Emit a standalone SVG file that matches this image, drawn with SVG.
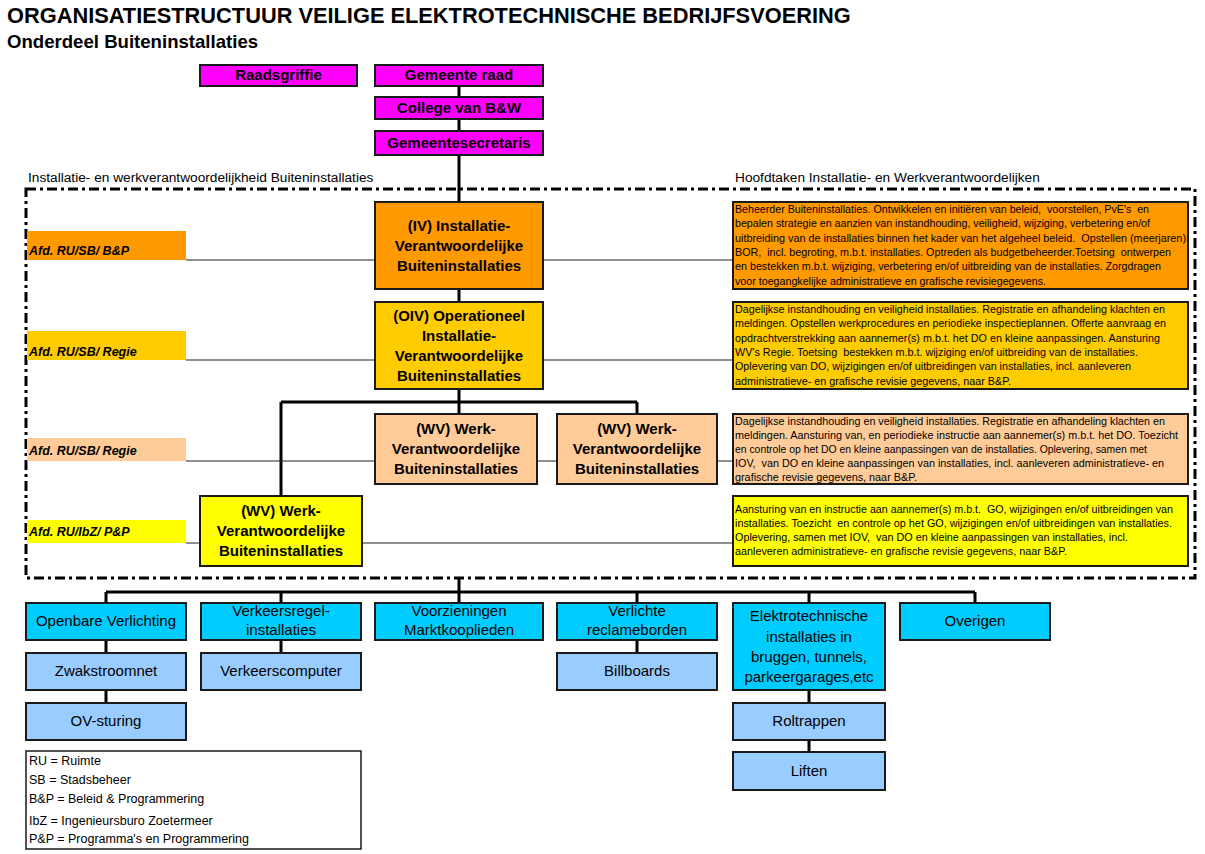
<svg xmlns="http://www.w3.org/2000/svg" width="1205" height="854" viewBox="0 0 1205 854">
<style>
text{font-family:"Liberation Sans",Arial,sans-serif;fill:#000}
.box{stroke:#1a1a1a;stroke-width:2}
.conn{stroke:#000;stroke-width:3;fill:none}
.thin{stroke:#222;stroke-width:1.2;fill:none}
.dd{stroke:#000;stroke-width:3;fill:none;stroke-dasharray:10 4 3 4}
.nb{font-weight:bold;font-size:15px;text-anchor:middle}
.nr{font-size:15px;text-anchor:middle}
.task{font-size:10.5px}
.lab{font-size:12.5px;font-style:italic;font-weight:bold}
.hdr{font-size:13.7px}
.leg{font-size:12.5px}
.mag{fill:#FF00FF}
.or{fill:#FF9900}
.gd{fill:#FFCC00}
.pe{fill:#FFCC99}
.ye{fill:#FFFF00}
.cy{fill:#00CCFF}
.lb{fill:#99CCFF}
</style>

<text x="7" y="23" style="font-size:21.8px;font-weight:bold">ORGANISATIESTRUCTUUR VEILIGE ELEKTROTECHNISCHE BEDRIJFSVOERING</text>
<text x="7" y="48" style="font-size:18.6px;font-weight:bold">Onderdeel Buiteninstallaties</text>
<text class="hdr" x="28" y="182">Installatie- en werkverantwoordelijkheid Buiteninstallaties</text>
<text class="hdr" x="735" y="182">Hoofdtaken Installatie- en Werkverantwoordelijken</text>

<rect class="dd" x="26" y="189" width="1169" height="389"/>

<g id="connectors">
  <path class="conn" d="M459 86V97M459 119V131M459 155V202M459 289V302M459 389V402M281 402H637M459 402V414M637 402V414M281 402V496"/>
  <path class="thin" d="M186 260H375M543 260H733M186 360H375M543 360H733M186 461H375M537 461H557M717 461H733M186 543H200M362 543H733"/>
  <path class="conn" d="M459 578V592M106 592H975M106 592V603M281 592V603M459 592V603M637 592V603M809 592V603M975 592V603M106 640V653M106 690V703M281 640V653M637 640V653M809 690V703M809 740V752"/>
</g>

<g id="raadsgriffie"><rect class="box mag" x="200" y="65" width="157" height="21"/><text class="nb" x="278.5" y="80">Raadsgriffie</text></g>
<g id="gemeenteraad"><rect class="box mag" x="375" y="65" width="168" height="21"/><text class="nb" x="459" y="80">Gemeente raad</text></g>
<g id="college"><rect class="box mag" x="375" y="97" width="168" height="22"/><text class="nb" x="459" y="113">College van B&amp;W</text></g>
<g id="secretaris"><rect class="box mag" x="375" y="131" width="168" height="24"/><text class="nb" x="459" y="148">Gemeentesecretaris</text></g>

<g id="iv"><rect class="box or" x="375" y="202" width="168" height="87"/>
<text class="nb" x="459" y="231">(IV) Installatie-</text><text class="nb" x="459" y="251">Verantwoordelijke</text><text class="nb" x="459" y="271">Buiteninstallaties</text></g>
<g id="oiv"><rect class="box gd" x="375" y="302" width="168" height="87"/>
<text class="nb" x="459" y="321">(OIV) Operationeel</text><text class="nb" x="459" y="341">Installatie-</text><text class="nb" x="459" y="361">Verantwoordelijke</text><text class="nb" x="459" y="381">Buiteninstallaties</text></g>
<g id="wv1"><rect class="box pe" x="375" y="414" width="162" height="70"/>
<text class="nb" x="456" y="434">(WV) Werk-</text><text class="nb" x="456" y="454">Verantwoordelijke</text><text class="nb" x="456" y="474">Buiteninstallaties</text></g>
<g id="wv2"><rect class="box pe" x="557" y="414" width="160" height="70"/>
<text class="nb" x="637" y="434">(WV) Werk-</text><text class="nb" x="637" y="454">Verantwoordelijke</text><text class="nb" x="637" y="474">Buiteninstallaties</text></g>
<g id="wv3"><rect class="box ye" x="200" y="496" width="162" height="70"/>
<text class="nb" x="281" y="516">(WV) Werk-</text><text class="nb" x="281" y="536">Verantwoordelijke</text><text class="nb" x="281" y="556">Buiteninstallaties</text></g>

<g id="lab-bp"><rect class="or" x="27" y="231" width="159" height="29"/><text class="lab" x="29" y="255">Afd. RU/SB/ B&amp;P</text></g>
<g id="lab-regie1"><rect class="gd" x="27" y="331" width="159" height="29"/><text class="lab" x="29" y="356">Afd. RU/SB/ Regie</text></g>
<g id="lab-regie2"><rect class="pe" x="27" y="438" width="159" height="23"/><text class="lab" x="29" y="455">Afd. RU/SB/ Regie</text></g>
<g id="lab-pp"><rect class="ye" x="27" y="520" width="159" height="23"/><text class="lab" x="29" y="536">Afd. RU/IbZ/ P&amp;P</text></g>

<g id="task-iv"><rect class="box or" x="733" y="202" width="455" height="87"/>
<text class="task" x="735" y="213" xml:space="preserve" textLength="414" lengthAdjust="spacingAndGlyphs">Beheerder Buiteninstallaties. Ontwikkelen en initiëren van beleid,  voorstellen, PvE's  en</text>
<text class="task" x="735" y="227.3" xml:space="preserve" textLength="415" lengthAdjust="spacingAndGlyphs">bepalen strategie en aanzien van instandhouding, veiligheid, wijziging, verbetering en/of</text>
<text class="task" x="735" y="241.6" xml:space="preserve" textLength="451" lengthAdjust="spacingAndGlyphs">uitbreiding van de installaties binnen het kader van het algeheel beleid.  Opstellen (meerjaren)</text>
<text class="task" x="735" y="256" xml:space="preserve" textLength="436" lengthAdjust="spacingAndGlyphs">BOR,  incl. begroting, m.b.t. installaties. Optreden als budgetbeheerder.Toetsing  ontwerpen</text>
<text class="task" x="735" y="270.3" xml:space="preserve" textLength="426" lengthAdjust="spacingAndGlyphs">en bestekken m.b.t. wijziging, verbetering en/of uitbreiding van de installaties. Zorgdragen</text>
<text class="task" x="735" y="284.6" xml:space="preserve" textLength="311" lengthAdjust="spacingAndGlyphs">voor toegangkelijke administratieve en grafische revisiegegevens.</text></g>

<g id="task-oiv"><rect class="box gd" x="733" y="302" width="455" height="87"/>
<text class="task" x="735" y="313" xml:space="preserve" textLength="430" lengthAdjust="spacingAndGlyphs">Dagelijkse instandhouding en veiligheid installaties. Registratie en afhandeling klachten en</text>
<text class="task" x="735" y="327.3" xml:space="preserve" textLength="431" lengthAdjust="spacingAndGlyphs">meldingen. Opstellen werkprocedures en periodieke inspectieplannen. Offerte aanvraag en</text>
<text class="task" x="735" y="341.6" xml:space="preserve" textLength="425" lengthAdjust="spacingAndGlyphs">opdrachtverstrekking aan aannemer(s) m.b.t. het DO en kleine aanpassingen. Aansturing</text>
<text class="task" x="735" y="356" xml:space="preserve" textLength="403" lengthAdjust="spacingAndGlyphs">WV's Regie. Toetsing  bestekken m.b.t. wijziging en/of uitbreiding van de installaties.</text>
<text class="task" x="735" y="370.3" xml:space="preserve" textLength="396" lengthAdjust="spacingAndGlyphs">Oplevering van DO, wijzigingen en/of uitbreidingen van installaties, incl. aanleveren</text>
<text class="task" x="735" y="384.6" xml:space="preserve" textLength="276" lengthAdjust="spacingAndGlyphs">administratieve- en grafische revisie gegevens, naar B&amp;P.</text></g>

<g id="task-wv"><rect class="box pe" x="733" y="414" width="455" height="70"/>
<text class="task" x="735" y="424.5" xml:space="preserve" textLength="430" lengthAdjust="spacingAndGlyphs">Dagelijkse instandhouding en veiligheid installaties. Registratie en afhandeling klachten en</text>
<text class="task" x="735" y="438.5" xml:space="preserve" textLength="443" lengthAdjust="spacingAndGlyphs">meldingen. Aansturing van, en periodieke instructie aan aannemer(s) m.b.t. het DO. Toezicht</text>
<text class="task" x="735" y="452.5" xml:space="preserve" textLength="412" lengthAdjust="spacingAndGlyphs">en controle op het DO en kleine aanpassingen van de installaties. Oplevering, samen met</text>
<text class="task" x="735" y="466.5" xml:space="preserve" textLength="429" lengthAdjust="spacingAndGlyphs">IOV,  van DO en kleine aanpassingen van installaties, incl. aanleveren administratieve- en</text>
<text class="task" x="735" y="480.5" xml:space="preserve" textLength="182" lengthAdjust="spacingAndGlyphs">grafische revisie gegevens, naar B&amp;P.</text></g>

<g id="task-pp"><rect class="box ye" x="733" y="496" width="455" height="70"/>
<text class="task" x="735" y="512.5" xml:space="preserve" textLength="438" lengthAdjust="spacingAndGlyphs">Aansturing van en instructie aan aannemer(s) m.b.t.  GO, wijzigingen en/of uitbreidingen van</text>
<text class="task" x="735" y="526.5" xml:space="preserve" textLength="437" lengthAdjust="spacingAndGlyphs">installaties. Toezicht  en controle op het GO, wijzigingen en/of uitbreidingen van installaties.</text>
<text class="task" x="735" y="540.5" xml:space="preserve" textLength="393" lengthAdjust="spacingAndGlyphs">Oplevering, samen met IOV,  van DO en kleine aanpassingen van installaties, incl.</text>
<text class="task" x="735" y="554.5" xml:space="preserve" textLength="332" lengthAdjust="spacingAndGlyphs">aanleveren administratieve- en grafische revisie gegevens, naar B&amp;P.</text></g>

<g id="ov"><rect class="box cy" x="26" y="603" width="160" height="37"/><text class="nr" x="106" y="626">Openbare Verlichting</text></g>
<g id="vri"><rect class="box cy" x="201" y="603" width="160" height="37"/><text class="nr" x="281" y="616">Verkeersregel-</text><text class="nr" x="281" y="635">installaties</text></g>
<g id="markt"><rect class="box cy" x="375" y="603" width="168" height="37"/><text class="nr" x="459" y="616">Voorzieningen</text><text class="nr" x="459" y="635">Marktkooplieden</text></g>
<g id="reclame"><rect class="box cy" x="557" y="603" width="160" height="37"/><text class="nr" x="637" y="616">Verlichte</text><text class="nr" x="637" y="635">reclameborden</text></g>
<g id="elektro"><rect class="box cy" x="733" y="603" width="152" height="87"/>
<text class="nr" x="809" y="621">Elektrotechnische</text><text class="nr" x="809" y="642">installaties in</text><text class="nr" x="809" y="662">bruggen, tunnels,</text><text class="nr" x="809" y="682">parkeergarages,etc</text></g>
<g id="overigen"><rect class="box cy" x="900" y="603" width="150" height="37"/><text class="nr" x="975" y="626">Overigen</text></g>

<g id="zwakstroom"><rect class="box lb" x="26" y="653" width="160" height="37"/><text class="nr" x="106" y="676">Zwakstroomnet</text></g>
<g id="vcomp"><rect class="box lb" x="201" y="653" width="160" height="37"/><text class="nr" x="281" y="676">Verkeerscomputer</text></g>
<g id="billboards"><rect class="box lb" x="557" y="653" width="160" height="37"/><text class="nr" x="637" y="676">Billboards</text></g>
<g id="ovsturing"><rect class="box lb" x="26" y="703" width="160" height="37"/><text class="nr" x="106" y="726">OV-sturing</text></g>
<g id="roltrappen"><rect class="box lb" x="733" y="703" width="152" height="37"/><text class="nr" x="809" y="726">Roltrappen</text></g>
<g id="liften"><rect class="box lb" x="733" y="752" width="152" height="38"/><text class="nr" x="809" y="776">Liften</text></g>

<g id="legend"><rect x="26" y="751" width="335" height="98" fill="#fff" stroke="#1a1a1a" stroke-width="1.5"/>
<text class="leg" x="29" y="765">RU = Ruimte</text>
<text class="leg" x="29" y="784">SB = Stadsbeheer</text>
<text class="leg" x="29" y="803">B&amp;P = Beleid &amp; Programmering</text>
<text class="leg" x="29" y="825">IbZ = Ingenieursburo Zoetermeer</text>
<text class="leg" x="29" y="843">P&amp;P = Programma's en Programmering</text></g>
</svg>
